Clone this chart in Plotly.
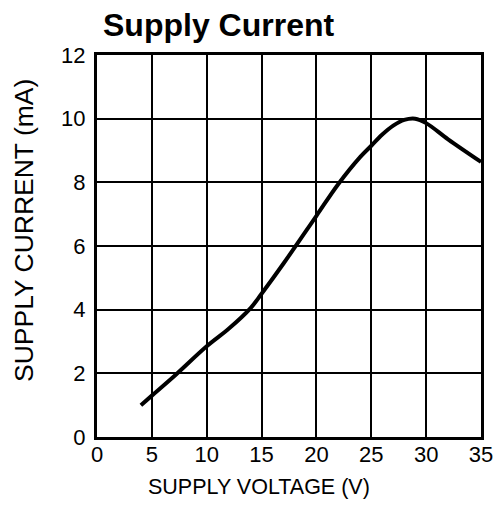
import plotly.graph_objects as go

voltage = [4, 5, 7, 10, 12, 14, 15, 17, 20, 22, 24, 25, 26, 27, 28, 29, 30, 32, 35]
current = [1.0, 1.3, 1.9, 2.85, 3.4, 4.05, 4.5, 5.45, 6.95, 7.95, 8.8, 9.15, 9.5, 9.78, 9.96, 10.0, 9.86, 9.35, 8.64]

x_ticks = [0, 5, 10, 15, 20, 25, 30, 35]
y_ticks = [0, 2, 4, 6, 8, 10, 12]

title_text = "<b>Supply Current</b>"
x_title = "SUPPLY VOLTAGE (V)"
y_title = "SUPPLY CURRENT (mA)"

font_family = "Liberation Sans, Arial, sans-serif"

L, R, T, B = 97, 17, 55, 88
W, H = 498, 525
pw, ph = W - L - R, H - T - B

def px(x):
    return (x - L) / pw

def py(y):
    return (H - B - y) / ph

fig = go.Figure()
fig.add_trace(go.Scatter(x=voltage, y=current, mode="lines",
                         line=dict(color="black", width=4, shape="spline"),
                         showlegend=False, hoverinfo="skip"))

fig.update_layout(
    width=W, height=H,
    margin=dict(l=L, r=R, t=T, b=B),
    paper_bgcolor="white", plot_bgcolor="white",
    font=dict(family=font_family, color="black", size=22),
    annotations=[
        dict(text=title_text, xref="paper", yref="paper", x=px(218), y=py(25),
             xanchor="center", yanchor="middle", showarrow=False,
             font=dict(size=32, family=font_family, color="black")),
        dict(text=x_title, xref="paper", yref="paper", x=px(258.5), y=py(487),
             xanchor="center", yanchor="middle", showarrow=False,
             font=dict(size=21.5, family=font_family, color="black")),
        dict(text=y_title, xref="paper", yref="paper", x=px(24), y=py(231),
             xanchor="center", yanchor="middle", showarrow=False, textangle=-90,
             font=dict(size=26.5, family=font_family, color="black")),
    ],
)
fig.update_xaxes(range=[0, 35], tickvals=x_ticks, ticks="", showgrid=True,
                 gridcolor="black", gridwidth=2, showline=True, linecolor="black",
                 linewidth=3, mirror=True, zeroline=False, automargin=False,
                 tickfont=dict(size=22), ticklabelstandoff=-4,
                 ticklabeloverflow="allow")
fig.update_yaxes(range=[0, 12], tickvals=y_ticks, ticks="", showgrid=True,
                 gridcolor="black", gridwidth=2, showline=True, linecolor="black",
                 linewidth=3, mirror=True, zeroline=False, automargin=False,
                 tickfont=dict(size=22), ticklabelstandoff=4,
                 ticklabeloverflow="allow")

fig.write_html("out.html", config={"displayModeBar": False},
               post_script="document.body.style.margin='0';document.body.style.overflow='hidden';")
